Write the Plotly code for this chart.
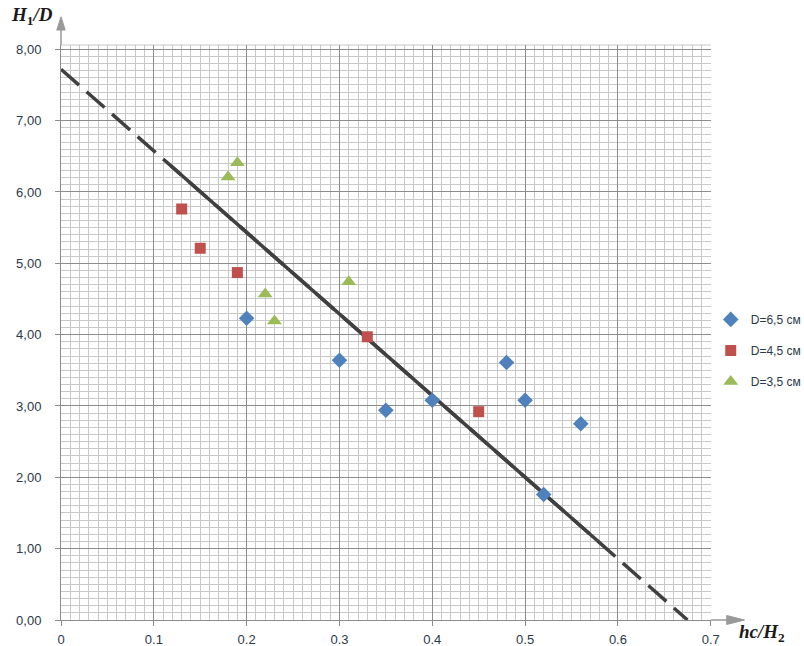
import plotly.graph_objects as go

# ---- data ----
d65_x = [0.20, 0.30, 0.35, 0.40, 0.48, 0.50, 0.52, 0.56]
d65_y = [4.23, 3.64, 2.94, 3.08, 3.61, 3.08, 1.76, 2.75]

d45_x = [0.13, 0.15, 0.19, 0.33, 0.45]
d45_y = [5.76, 5.21, 4.87, 3.97, 2.92]

d35_x = [0.18, 0.19, 0.22, 0.23, 0.31]
d35_y = [6.21, 6.41, 4.57, 4.19, 4.74]

series_names = ["D=6,5 см", "D=4,5 см", "D=3,5 см"]

trend_dash_x = [0.0, 0.675]
trend_dash_y = [7.72, 0.0]
trend_solid_x = [0.118, 0.578]
trend_solid_y = [6.37, 1.11]

y_tickvals = [0, 1, 2, 3, 4, 5, 6, 7, 8]
y_ticktext = ["0,00", "1,00", "2,00", "3,00", "4,00", "5,00", "6,00", "7,00", "8,00"]
x_tickvals = [0, 0.1, 0.2, 0.3, 0.4, 0.5, 0.6, 0.7]
x_ticktext = ["0", "0.1", "0.2", "0.3", "0.4", "0.5", "0.6", "0.7"]

fig = go.Figure()

fig.add_trace(go.Scatter(x=trend_dash_x, y=trend_dash_y, mode="lines",
                         line=dict(color="#404040", width=3.5, dash="24px,10px"),
                         showlegend=False, hoverinfo="skip"))
fig.add_trace(go.Scatter(x=trend_solid_x, y=trend_solid_y, mode="lines",
                         line=dict(color="#404040", width=3.5),
                         showlegend=False, hoverinfo="skip"))

fig.add_trace(go.Scatter(x=d65_x, y=d65_y, mode="markers", name=series_names[0],
                         legendgroup="a",
                         marker=dict(symbol="diamond", size=12, color="#4f81bd")))
fig.add_trace(go.Scatter(x=d45_x, y=d45_y, mode="markers", name=series_names[1],
                         legendgroup="b",
                         marker=dict(symbol="square", size=11, color="#c0504d")))
fig.add_trace(go.Scatter(x=d35_x, y=d35_y, mode="markers", name=series_names[2],
                         legendgroup="c",
                         marker=dict(symbol="triangle-up", size=13, color="#9bbb59")))

tick_font = dict(family="Liberation Sans, Arial, sans-serif", size=13, color="#2b3a4a")

fig.update_layout(
    width=804, height=646,
    margin=dict(l=61, r=93, t=45, b=26),
    paper_bgcolor="white", plot_bgcolor="white",
    showlegend=True,
    legend=dict(xref="container", yref="container", x=0.884, xanchor="left",
                y=0.528, yanchor="top",
                font=dict(family="Liberation Sans, Arial, sans-serif", size=12, color="#2b3a4a"),
                tracegroupgap=12, itemwidth=30, bgcolor="rgba(0,0,0,0)"),
    xaxis=dict(range=[0, 0.7], tickvals=x_tickvals, ticktext=x_ticktext,
               automargin=False,
               showgrid=True, gridcolor="#8c8c8c", gridwidth=1,
               ticks="outside", ticklen=5, tickcolor="#8c8c8c",
               showline=True, linecolor="#8c8c8c", linewidth=1,
               zeroline=False, tickfont=tick_font, ticklabelstandoff=2,
               minor=dict(dtick=0.01, tick0=0, showgrid=True, gridcolor="#c8c8c8",
                          gridwidth=1, ticks="")),
    yaxis=dict(range=[0, 8.06], tickvals=y_tickvals, ticktext=y_ticktext,
               automargin=False,
               showgrid=True, gridcolor="#8c8c8c", gridwidth=1,
               ticks="outside", ticklen=5, tickcolor="#8c8c8c",
               showline=True, linecolor="#8c8c8c", linewidth=1,
               zeroline=False, tickfont=tick_font, ticklabelstandoff=11,
               minor=dict(dtick=0.1, tick0=0, showgrid=True, gridcolor="#c8c8c8",
                          gridwidth=1, ticks="")),
)

# top border of plot area
fig.add_shape(type="line", xref="paper", yref="paper", x0=0, x1=1, y0=1, y1=1,
              line=dict(color="#c8c8c8", width=1), layer="below")

# axis arrows
arrow_col = "#999999"
fig.add_shape(type="line", xref="paper", yref="paper", x0=0, x1=0, y0=1, y1=1.03,
              line=dict(color=arrow_col, width=1.5))
fig.add_shape(type="path", xref="paper", yref="paper",
              path="M -0.0065 1.026 L 0.0065 1.026 L 0 1.049 Z",
              fillcolor=arrow_col, line=dict(color=arrow_col, width=1))
fig.add_shape(type="line", xref="paper", yref="paper", x0=1, x1=1.027, y0=0, y1=0,
              line=dict(color=arrow_col, width=1.5))
fig.add_shape(type="path", xref="paper", yref="paper",
              path="M 1.0246 -0.0078 L 1.0246 0.0078 L 1.052 0 Z",
              fillcolor=arrow_col, line=dict(color=arrow_col, width=1))

title_font = dict(family="Liberation Serif, Times New Roman, serif", size=19, color="#1a1a1a")
fig.add_annotation(xref="paper", yref="paper", x=-0.009, y=1.05, xanchor="right",
                   yanchor="middle", showarrow=False, font=title_font,
                   text="<b><i>H</i></b><b><sub>1</sub></b><b><i>/D</i></b>")
fig.add_annotation(xref="paper", yref="paper", x=1.04, y=-0.022, xanchor="left",
                   yanchor="middle", showarrow=False, font=title_font,
                   text="<b><i>hc/H</i></b><b><sub>2</sub></b>")

fig.write_html("out.html", config={"displayModeBar": False},
               post_script="document.body.style.margin='0px';document.body.style.overflow='hidden';")
